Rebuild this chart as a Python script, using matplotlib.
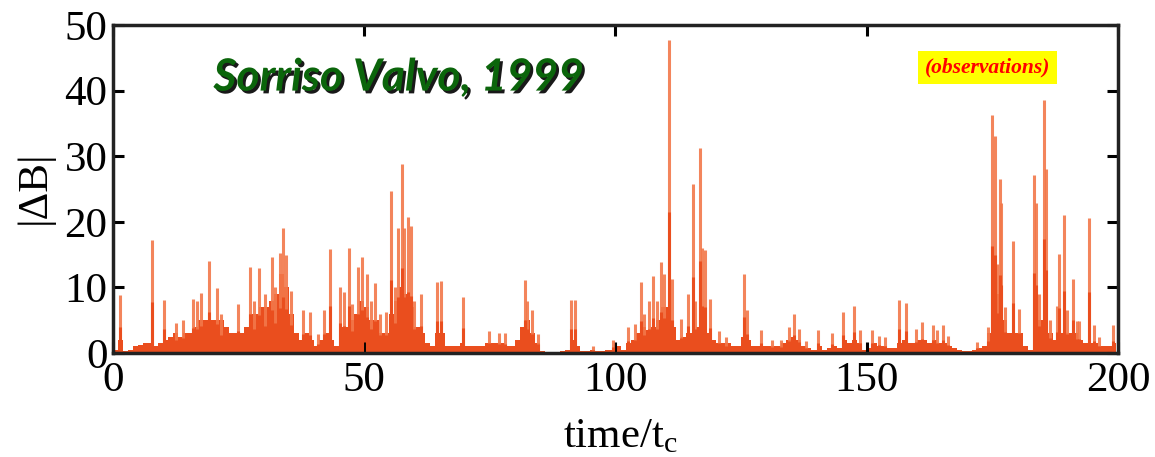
import numpy as np
import matplotlib
matplotlib.use("Agg")
import matplotlib.pyplot as plt
import matplotlib.patheffects as pe

# ---- data ----
# background level of |dB| per unit time (t = 0..199)
base_t = list(range(200))
base_v = [0.5, 2, 0.3, 0.5, 1, 1.2, 1.5, 1.5, 1, 1.5,
          2, 2.5, 3, 2.5, 3, 3, 4, 5, 5, 5,
          5, 5, 4, 3, 3, 3, 4, 6, 6, 7,
          7, 8, 9, 12, 10, 6, 3, 2, 3, 2,
          1, 2, 3, 2, 1, 4, 4, 5, 6, 8,
          7, 5, 5, 3, 3, 6, 8, 10, 9, 7,
          4, 3, 1.5, 1, 3, 3, 1, 1, 1, 1.5,
          1, 1, 1, 1, 1.5, 1.5, 1.5, 1.5, 1, 1,
          2, 4, 5, 3, 1.5, 0.3, 0.2, 0.2, 0.2, 0.3,
          0.5, 2, 1, 0.3, 0.3, 0.5, 0.3, 0.3, 0.5, 0.5,
          1, 0.5, 1.5, 2, 3, 4, 3.5, 4, 5, 7,
          7, 4, 2, 2.5, 3, 3, 4, 4, 3, 2,
          1.5, 1.5, 1.5, 1, 1, 2.5, 2, 1, 1, 1,
          1, 1, 1, 1.5, 2, 2.5, 2, 1, 0.8, 0.5,
          1, 0.5, 0.8, 1, 0.8, 2, 1.5, 2, 1.5, 0.5,
          0.8, 1.5, 1, 1, 0.8, 0.8, 1.5, 2, 1.5, 1.5,
          2, 2, 1.5, 2, 1.5, 1.5, 1, 0.8, 0.5, 0.3,
          0.3, 0.5, 0.8, 1, 3, 10, 9, 5, 3, 3,
          3, 1, 0.5, 4, 5, 5, 3, 2, 3, 3,
          3, 3, 2, 1.5, 1.5, 1.5, 1, 1, 1, 1.5]

# individual spikes: time, peak value
spike_t = [1.4, 7.7, 10.1, 12.5, 14.0, 16.0, 16.7, 17.6, 19.1, 20.7,
           21.5, 24.9, 27.3, 28.0, 29.0, 30.2, 31.6, 32.3, 33.2, 33.8,
           34.5, 35.4, 37.8, 39.3, 40.8, 41.9, 43.1, 45.1, 46.0, 47.0,
           47.6, 48.8, 49.5, 50.5, 51.3, 52.2, 53.2, 54.4, 55.3, 56.2,
           56.8, 57.5, 58.0, 58.7, 59.3, 60.0, 61.2, 64.5, 65.3, 69.7,
           74.8, 76.8, 78.0, 81.9, 82.4, 83.4, 84.5, 91.1, 91.9, 95.5,
           99.5, 102.5, 103.9, 105.0, 105.7, 106.7, 107.5, 108.3, 109.1, 109.7,
           110.6, 111.2, 113.0, 114.4, 115.4, 115.9, 116.8, 117.2, 117.9, 118.8,
           120.6, 122.0, 125.6, 126.2, 128.9, 131.2, 133.0, 134.5, 135.5, 136.5,
           138.0, 140.3, 143.0, 145.3, 147.4, 148.7, 151.0, 152.5, 153.7, 156.5,
           157.8, 159.7, 160.9, 163.2, 164.0, 165.1, 166.2, 171.9, 174.2, 174.9,
           175.5, 176.0, 176.5, 176.8, 177.5, 179.0, 180.3, 183.3, 183.7, 184.3,
           185.3, 185.6, 186.5, 187.9, 188.2, 189.3, 189.8, 191.1, 191.8, 192.3,
           194.2, 195.2, 196.3, 199.0]
spike_v = [8.8, 17.3, 8.1, 4.5, 5.0, 8.3, 8.0, 9.1, 14.0, 9.9,
           6.0, 7.5, 13.1, 8.0, 12.9, 9.0, 14.7, 10.0, 15.2, 19.0,
           15.0, 9.5, 6.6, 6.2, 2.9, 6.6, 15.8, 10.0, 9.3, 16.0,
           7.5, 13.1, 14.7, 12.1, 8.0, 10.7, 6.0, 6.2, 24.7, 10.0,
           19.0, 28.8, 19.0, 20.8, 19.3, 8.0, 9.0, 10.8, 11.0, 8.5,
           3.4, 3.1, 3.0, 11.1, 8.0, 6.5, 2.9, 8.1, 8.1, 1.0,
           2.0, 3.9, 4.4, 10.8, 6.0, 8.0, 11.8, 8.0, 13.9, 12.0,
           47.7, 11.3, 5.2, 9.0, 25.8, 8.0, 31.2, 16.0, 15.7, 8.3,
           3.4, 2.5, 12.1, 6.5, 3.5, 2.0, 2.0, 3.9, 6.0, 3.6,
           1.8, 3.5, 3.1, 6.2, 7.1, 3.5, 3.5, 2.6, 2.4, 8.1,
           7.6, 3.6, 4.8, 4.3, 3.5, 4.3, 2.6, 1.6, 3.9, 36.3,
           33.1, 13.6, 26.5, 22.9, 7.0, 17.1, 6.7, 27.1, 22.9, 9.0,
           38.6, 28.0, 5.0, 7.1, 15.1, 21.1, 6.6, 11.3, 4.9, 4.9,
           20.6, 4.2, 2.4, 4.2]

x_ticks = [0, 50, 100, 150, 200]
y_ticks = [0, 10, 20, 30, 40, 50]

# ---- drawing ----
plt.rcParams['mathtext.fontset'] = 'custom'
plt.rcParams['mathtext.rm'] = 'Liberation Serif'
plt.rcParams['mathtext.it'] = 'Liberation Serif:italic'

fig = plt.figure(figsize=(11.55, 4.57), dpi=100)
ax = fig.add_axes([0.0978, 0.2276, 0.8702, 0.7174])

base_color = '#EA4E1E'
spike_color = '#F2784A'

bt = np.array(base_t, float) + 0.5
ax.fill_between(bt, base_v, 0, step='mid', color=base_color, lw=0)
ax.vlines(spike_t, 0, spike_v, color=spike_color, lw=2.2, alpha=0.9)
ax.vlines(spike_t, 0, np.array(spike_v) * 0.45, color=base_color, lw=2.2)

ax.set_xlim(0, 200)
ax.set_ylim(0, 50)
ax.set_xticks(x_ticks)
ax.set_yticks(y_ticks)
ax.tick_params(direction='in', length=8, width=2.2, top=True, right=True,
               labelsize=31, pad=6)
ax.tick_params(axis='y', pad=4)
for lab in ax.get_xticklabels() + ax.get_yticklabels():
    lab.set_family('Liberation Serif')
for s in ax.spines.values():
    s.set_linewidth(2.5)
    s.set_color('#222222')

fig.text(0.537, 0.022, r'time/t$_\mathrm{c}$', ha='center', va='baseline',
         fontsize=31, family='Liberation Serif')
fig.text(0.030, 0.59, '|ΔB|', rotation=90, ha='center', va='center',
         fontsize=31, family='Liberation Serif')

ax.text(0.10, 0.84, 'Sorriso Valvo, 1999', transform=ax.transAxes,
        fontsize=32, fontweight='bold', fontstyle='italic', family='Lato',
        color='#0B650B', ha='left', va='center',
        path_effects=[pe.withSimplePatchShadow(offset=(2, -2),
                                               shadow_rgbFace='black',
                                               alpha=0.9)])
ax.text(0.870, 0.87, '(observations)', transform=ax.transAxes,
        fontsize=15.5, fontstyle='italic', fontweight='bold',
        family='Liberation Serif',
        color='#FF0000', ha='center', va='center',
        bbox=dict(boxstyle='square,pad=0.3', fc='#FFFF00', ec='none'))

fig.savefig('out.png', dpi=100)
